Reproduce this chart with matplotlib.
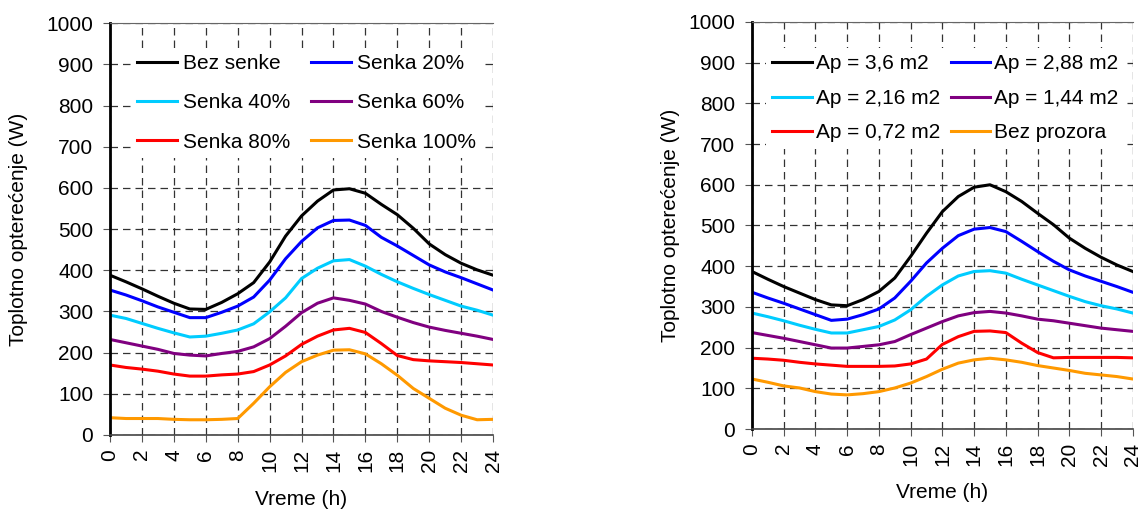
import matplotlib
matplotlib.use("Agg")
import matplotlib.pyplot as plt

plt.rcParams['font.family'] = ['Liberation Sans', 'DejaVu Sans']
plt.rcParams['font.size'] = 15

hours = list(range(25))

# left chart - shading
labels_l = ['Bez senke', 'Senka 20%', 'Senka 40%', 'Senka 60%', 'Senka 80%', 'Senka 100%']
bez_senke = [388, 372, 355, 337, 320, 306, 305, 322, 343, 370, 420, 483, 532, 568, 595, 598,
             587, 560, 535, 502, 464, 438, 417, 401, 388]
senka_20 = [352, 340, 326, 311, 298, 285, 285, 298, 313, 335, 376, 428, 470, 503, 521, 522,
            509, 480, 459, 436, 413, 396, 382, 367, 352]
senka_40 = [291, 283, 271, 259, 248, 238, 240, 247, 255, 270, 299, 333, 380, 405, 423, 426,
            410, 390, 372, 356, 341, 327, 313, 303, 291]
senka_60 = [232, 224, 216, 208, 198, 194, 192, 198, 203, 214, 234, 264, 297, 320, 333, 327,
            318, 300, 286, 273, 262, 254, 247, 240, 232]
senka_80 = [170, 164, 160, 155, 148, 143, 143, 146, 148, 154, 170, 192, 220, 240, 255, 259,
            249, 222, 193, 183, 180, 178, 176, 173, 170]
senka_100 = [42, 40, 40, 40, 38, 37, 37, 38, 40, 77, 117, 152, 178, 194, 206, 207,
             197, 173, 145, 113, 89, 65, 48, 37, 38]

# right chart - window area
labels_r = ['Ap = 3,6 m2', 'Ap = 2,88 m2', 'Ap = 2,16 m2', 'Ap = 1,44 m2', 'Ap = 0,72 m2', 'Bez prozora']
ap_360 = [387, 368, 350, 334, 318, 305, 303, 318, 338, 371, 424, 481, 534, 571, 594, 600,
          583, 559, 530, 502, 469, 444, 422, 403, 387]
ap_288 = [336, 322, 309, 295, 281, 267, 270, 281, 295, 322, 363, 408, 444, 475, 491, 495,
          485, 461, 436, 412, 391, 376, 363, 350, 336]
ap_216 = [285, 276, 266, 255, 245, 236, 236, 244, 252, 268, 293, 326, 354, 376, 387, 389,
          383, 368, 354, 340, 326, 313, 303, 295, 285]
ap_144 = [237, 230, 223, 215, 207, 199, 199, 203, 207, 215, 232, 248, 264, 278, 286, 289,
          285, 278, 270, 266, 260, 254, 248, 244, 240]
ap_072 = [174, 172, 169, 164, 160, 157, 154, 154, 154, 155, 160, 172, 208, 227, 240, 241,
          237, 211, 188, 175, 176, 176, 176, 176, 175]
bez_prozora = [123, 115, 106, 101, 92, 86, 84, 87, 92, 101, 113, 129, 147, 162, 170, 174,
               170, 164, 156, 150, 144, 137, 133, 129, 123]

colors = ['#000000', '#0000FF', '#00CCFF', '#800080', '#FF0000', '#FF9900']
order = [0, 2, 4, 1, 3, 5]  # legend filled row by row


def style_axes(ax, xpad, ypad):
    ax.set_xlim(0, 24)
    ax.set_ylim(0, 1000)
    ax.set_xticks(range(0, 25, 2))
    ax.set_yticks(range(0, 1001, 100))
    ax.tick_params(axis='x', labelrotation=90, direction='out', length=5, color='#555555', pad=5)
    ax.tick_params(axis='y', direction='out', length=5, color='#555555', pad=7)
    ax.grid(True, color='#333333', linestyle=(0, (6, 4)), linewidth=0.9)
    ax.set_axisbelow(True)
    ax.spines['left'].set_linewidth(2)
    ax.spines['left'].set_color('black')
    ax.spines['bottom'].set_color('#444444')
    ax.spines['bottom'].set_linewidth(1.2)
    ax.spines['top'].set_color('#666666')
    ax.spines['top'].set_linewidth(0.8)
    ax.spines['right'].set_visible(False)
    ax.set_xlabel('Vreme (h)', labelpad=xpad)
    ax.set_ylabel('Toplotno opterećenje (W)', labelpad=ypad)


fig = plt.figure(figsize=(11.47, 5.09), dpi=100)

ax1 = fig.add_axes([0.0959, 0.1454, 0.334, 0.809])
for series, lab, c in zip([bez_senke, senka_20, senka_40, senka_60, senka_80, senka_100], labels_l, colors):
    ax1.plot(hours, series, color=c, lw=2.2, label=lab)
style_axes(ax1, 13, 13)
h, l = ax1.get_legend_handles_labels()
ax1.legend([h[i] for i in order], [l[i] for i in order], ncol=2, loc='upper left',
           bbox_to_anchor=(0.055, 0.94), borderaxespad=0,
           frameon=True, facecolor='white', edgecolor='none', framealpha=1, fancybox=False,
           handlelength=1.9, handletextpad=0.3, columnspacing=1.0, labelspacing=0.97, borderpad=0.3)

ax2 = fig.add_axes([0.6556, 0.157, 0.332, 0.800])
for series, lab, c in zip([ap_360, ap_288, ap_216, ap_144, ap_072, bez_prozora], labels_r, colors):
    ax2.plot(hours, series, color=c, lw=2.2, label=lab)
style_axes(ax2, 12, 6)
h, l = ax2.get_legend_handles_labels()
ax2.legend([h[i] for i in order], [l[i] for i in order], ncol=2, loc='upper left',
           bbox_to_anchor=(0.037, 0.936), borderaxespad=0,
           frameon=True, facecolor='white', edgecolor='none', framealpha=1, fancybox=False,
           handlelength=1.9, handletextpad=0.2, columnspacing=0.5, labelspacing=0.75, borderpad=0.3)

fig.savefig('out.png', dpi=100)
